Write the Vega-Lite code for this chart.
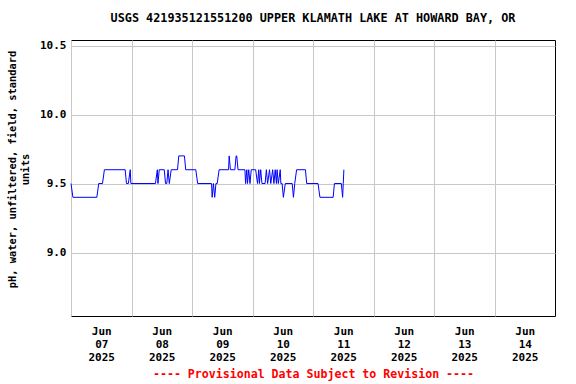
{
  "$schema": "https://vega.github.io/schema/vega-lite/v6.json",
  "width": 484,
  "height": 276,
  "autosize": {"type": "none"},
  "padding": {"left": 71, "top": 40, "right": 21, "bottom": 68},
  "background": "white",
  "title": {
    "text": "USGS 421935121551200 UPPER KLAMATH LAKE AT HOWARD BAY, OR",
    "font": "DejaVu Sans Mono",
    "fontSize": 11.8,
    "fontWeight": "bold",
    "color": "black",
    "anchor": "middle",
    "offset": 15
  },
  "config": {
    "view": {"stroke": "black", "strokeWidth": 1}
  },
  "data": {
    "values": [
      {"t": "2025-06-07T00:00:00Z", "v": 9.5},
      {"t": "2025-06-07T00:45:00Z", "v": 9.4},
      {"t": "2025-06-07T10:15:00Z", "v": 9.4},
      {"t": "2025-06-07T11:00:00Z", "v": 9.5},
      {"t": "2025-06-07T12:30:00Z", "v": 9.5},
      {"t": "2025-06-07T13:15:00Z", "v": 9.6},
      {"t": "2025-06-07T21:30:00Z", "v": 9.6},
      {"t": "2025-06-07T22:00:00Z", "v": 9.5},
      {"t": "2025-06-07T22:45:00Z", "v": 9.5},
      {"t": "2025-06-07T23:30:00Z", "v": 9.6},
      {"t": "2025-06-07T23:45:00Z", "v": 9.5},
      {"t": "2025-06-08T09:30:00Z", "v": 9.5},
      {"t": "2025-06-08T10:15:00Z", "v": 9.6},
      {"t": "2025-06-08T10:30:00Z", "v": 9.5},
      {"t": "2025-06-08T11:00:00Z", "v": 9.6},
      {"t": "2025-06-08T13:00:00Z", "v": 9.6},
      {"t": "2025-06-08T13:30:00Z", "v": 9.5},
      {"t": "2025-06-08T14:00:00Z", "v": 9.5},
      {"t": "2025-06-08T14:30:00Z", "v": 9.6},
      {"t": "2025-06-08T15:00:00Z", "v": 9.5},
      {"t": "2025-06-08T15:45:00Z", "v": 9.6},
      {"t": "2025-06-08T18:15:00Z", "v": 9.6},
      {"t": "2025-06-08T18:45:00Z", "v": 9.7},
      {"t": "2025-06-08T21:00:00Z", "v": 9.7},
      {"t": "2025-06-08T21:30:00Z", "v": 9.6},
      {"t": "2025-06-09T01:30:00Z", "v": 9.6},
      {"t": "2025-06-09T02:15:00Z", "v": 9.5},
      {"t": "2025-06-09T07:45:00Z", "v": 9.5},
      {"t": "2025-06-09T08:00:00Z", "v": 9.4},
      {"t": "2025-06-09T08:30:00Z", "v": 9.5},
      {"t": "2025-06-09T09:00:00Z", "v": 9.4},
      {"t": "2025-06-09T09:30:00Z", "v": 9.5},
      {"t": "2025-06-09T10:00:00Z", "v": 9.5},
      {"t": "2025-06-09T10:45:00Z", "v": 9.6},
      {"t": "2025-06-09T14:30:00Z", "v": 9.6},
      {"t": "2025-06-09T14:45:00Z", "v": 9.7},
      {"t": "2025-06-09T15:15:00Z", "v": 9.6},
      {"t": "2025-06-09T17:00:00Z", "v": 9.6},
      {"t": "2025-06-09T17:30:00Z", "v": 9.7},
      {"t": "2025-06-09T17:45:00Z", "v": 9.7},
      {"t": "2025-06-09T18:15:00Z", "v": 9.6},
      {"t": "2025-06-09T21:00:00Z", "v": 9.6},
      {"t": "2025-06-09T21:15:00Z", "v": 9.5},
      {"t": "2025-06-09T21:45:00Z", "v": 9.6},
      {"t": "2025-06-09T22:00:00Z", "v": 9.5},
      {"t": "2025-06-09T22:30:00Z", "v": 9.6},
      {"t": "2025-06-09T23:00:00Z", "v": 9.5},
      {"t": "2025-06-09T23:30:00Z", "v": 9.6},
      {"t": "2025-06-10T01:15:00Z", "v": 9.6},
      {"t": "2025-06-10T02:00:00Z", "v": 9.5},
      {"t": "2025-06-10T02:30:00Z", "v": 9.6},
      {"t": "2025-06-10T02:45:00Z", "v": 9.5},
      {"t": "2025-06-10T03:15:00Z", "v": 9.6},
      {"t": "2025-06-10T03:45:00Z", "v": 9.5},
      {"t": "2025-06-10T05:00:00Z", "v": 9.5},
      {"t": "2025-06-10T05:30:00Z", "v": 9.6},
      {"t": "2025-06-10T06:00:00Z", "v": 9.5},
      {"t": "2025-06-10T06:45:00Z", "v": 9.6},
      {"t": "2025-06-10T07:15:00Z", "v": 9.5},
      {"t": "2025-06-10T08:00:00Z", "v": 9.6},
      {"t": "2025-06-10T08:30:00Z", "v": 9.5},
      {"t": "2025-06-10T09:00:00Z", "v": 9.6},
      {"t": "2025-06-10T09:30:00Z", "v": 9.5},
      {"t": "2025-06-10T09:45:00Z", "v": 9.6},
      {"t": "2025-06-10T10:15:00Z", "v": 9.5},
      {"t": "2025-06-10T11:00:00Z", "v": 9.6},
      {"t": "2025-06-10T11:15:00Z", "v": 9.5},
      {"t": "2025-06-10T11:45:00Z", "v": 9.5},
      {"t": "2025-06-10T12:15:00Z", "v": 9.4},
      {"t": "2025-06-10T13:00:00Z", "v": 9.5},
      {"t": "2025-06-10T15:45:00Z", "v": 9.5},
      {"t": "2025-06-10T16:15:00Z", "v": 9.4},
      {"t": "2025-06-10T16:45:00Z", "v": 9.5},
      {"t": "2025-06-10T17:30:00Z", "v": 9.6},
      {"t": "2025-06-10T21:00:00Z", "v": 9.6},
      {"t": "2025-06-10T21:30:00Z", "v": 9.5},
      {"t": "2025-06-11T02:00:00Z", "v": 9.5},
      {"t": "2025-06-11T02:45:00Z", "v": 9.4},
      {"t": "2025-06-11T08:00:00Z", "v": 9.4},
      {"t": "2025-06-11T08:30:00Z", "v": 9.5},
      {"t": "2025-06-11T11:15:00Z", "v": 9.5},
      {"t": "2025-06-11T11:45:00Z", "v": 9.4},
      {"t": "2025-06-11T12:00:00Z", "v": 9.5},
      {"t": "2025-06-11T12:15:00Z", "v": 9.6}
    ]
  },
  "mark": {"type": "line", "color": "#0000ff", "strokeWidth": 1, "interpolate": "linear"},
  "encoding": {
    "x": {
      "field": "t",
      "type": "temporal",
      "scale": {
        "type": "utc",
        "domain": [
          {"year": 2025, "month": 6, "date": 7, "utc": true},
          {"year": 2025, "month": 6, "date": 15, "utc": true}
        ]
      },
      "axis": {
        "values": [
          {"year": 2025, "month": 6, "date": 7, "utc": true},
          {"year": 2025, "month": 6, "date": 8, "utc": true},
          {"year": 2025, "month": 6, "date": 9, "utc": true},
          {"year": 2025, "month": 6, "date": 10, "utc": true},
          {"year": 2025, "month": 6, "date": 11, "utc": true},
          {"year": 2025, "month": 6, "date": 12, "utc": true},
          {"year": 2025, "month": 6, "date": 13, "utc": true},
          {"year": 2025, "month": 6, "date": 14, "utc": true}
        ],
        "grid": true,
        "gridColor": "#c8c8c8",
        "gridOpacity": 1,
        "ticks": false,
        "domain": false,
        "labelExpr": "[utcFormat(datum.value, '%b'), utcFormat(datum.value, '%d'), utcFormat(datum.value, '%Y')]",
        "labelOffset": 30.25,
        "labelFlush": false,
        "labelOverlap": false,
        "labelBound": false,
        "labelPadding": 9,
        "labelFont": "DejaVu Sans Mono",
        "labelFontWeight": "bold",
        "labelFontSize": 11,
        "labelColor": "black",
        "labelLineHeight": 13,
        "labelAngle": 0,
        "title": "---- Provisional Data Subject to Revision ----",
        "titleColor": "red",
        "titleFont": "DejaVu Sans Mono",
        "titleFontSize": 11.6,
        "titleFontWeight": "bold",
        "titlePadding": 6
      }
    },
    "y": {
      "field": "v",
      "type": "quantitative",
      "scale": {"domain": [8.54, 10.54], "nice": false, "zero": false},
      "axis": {
        "values": [9.0, 9.5, 10.0, 10.5],
        "format": ".1f",
        "grid": true,
        "gridColor": "#c8c8c8",
        "gridOpacity": 1,
        "ticks": false,
        "domain": false,
        "labelPadding": 5,
        "labelFont": "DejaVu Sans Mono",
        "labelFontWeight": "bold",
        "labelFontSize": 11,
        "labelColor": "black",
        "title": ["pH, water, unfiltered, field, standard", "units"],
        "titleFont": "DejaVu Sans Mono",
        "titleFontWeight": "bold",
        "titleFontSize": 10.4,
        "titleColor": "black",
        "titleLineHeight": 13.5,
        "titlePadding": 9,
        "titleY": 129
      }
    }
  }
}
